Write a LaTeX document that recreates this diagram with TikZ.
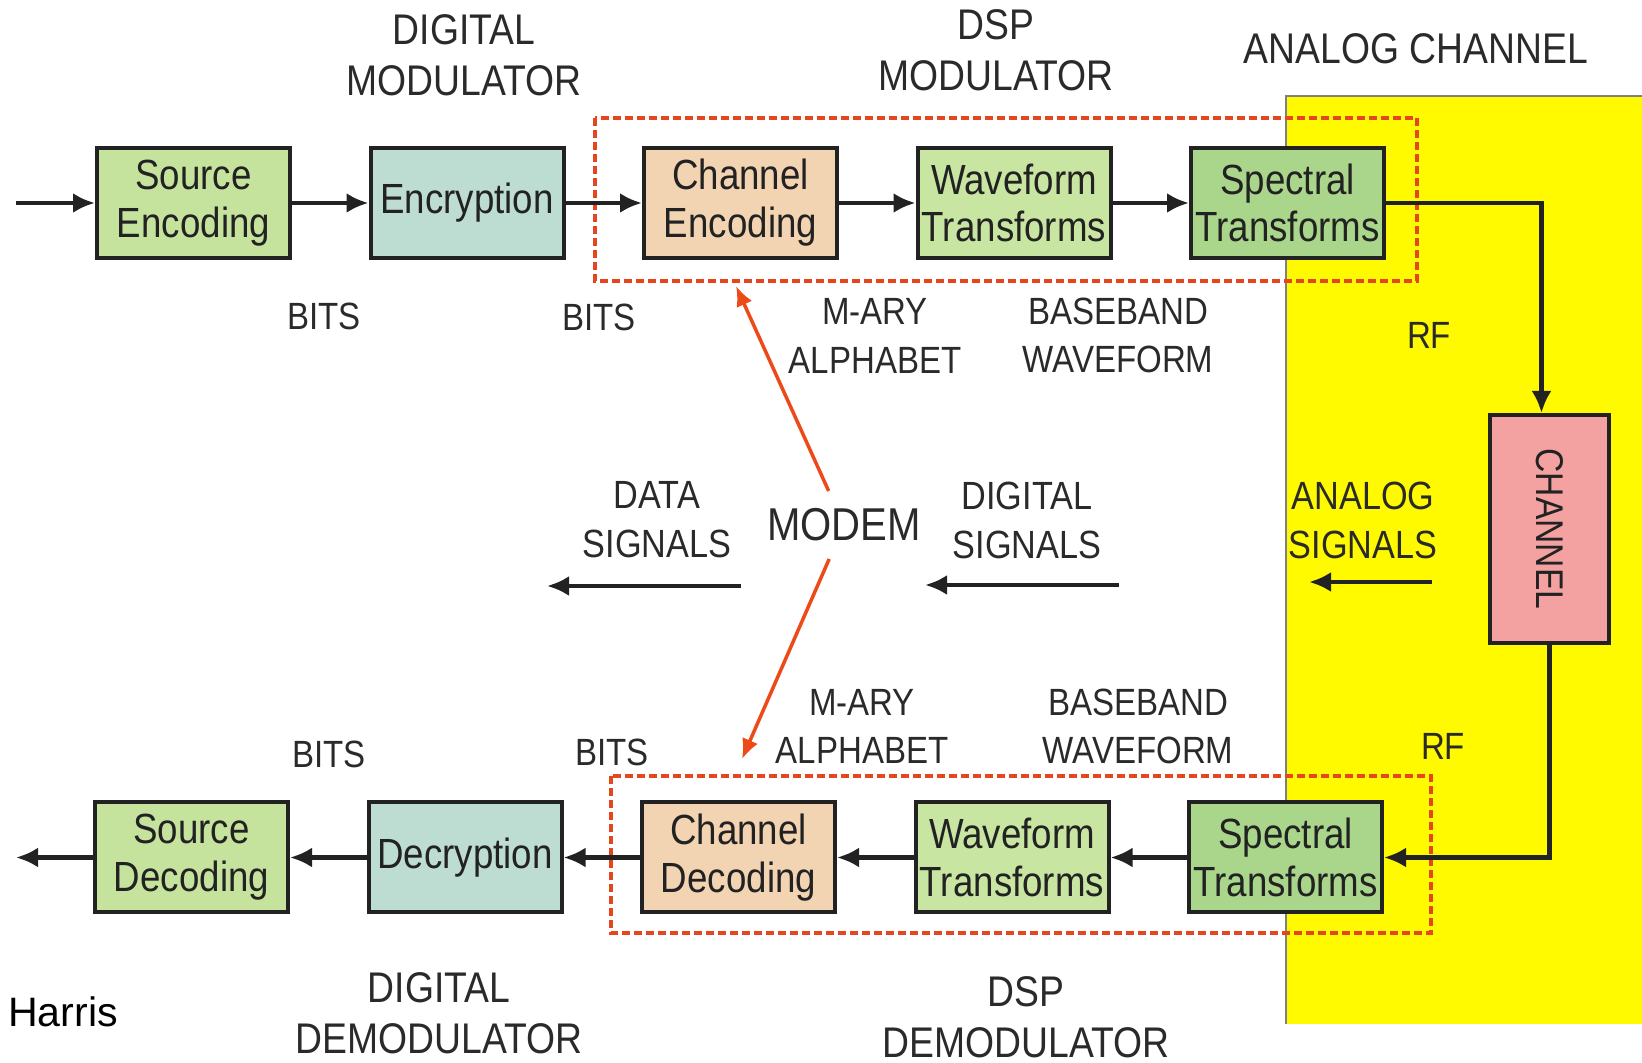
\documentclass[tikz,border=0pt]{standalone}
\usepackage{fontspec}
\usepackage{graphicx}
\setmainfont{Liberation Sans}
\newfontfamily\gothic[FakeStretch=0.87]{Liberation Sans}
\usetikzlibrary{positioning,arrows.meta}
\definecolor{SrcGreen}{HTML}{C6E39E}
\definecolor{CryptTeal}{HTML}{BDDDD2}
\definecolor{ChanPeach}{HTML}{F2D3B2}
\definecolor{WaveGreen}{HTML}{C8E6A2}
\definecolor{SpecGreen}{HTML}{A9D68B}
\definecolor{ChanPink}{HTML}{F4A1A1}
\definecolor{AnalogYellow}{HTML}{FFFA00}
\definecolor{FrameRed}{HTML}{E6461E}
\definecolor{ModemRed}{HTML}{EC4A18}
\definecolor{BoxEdge}{HTML}{222222}
\definecolor{LabelInk}{HTML}{2A2A2A}

\begin{document}
\begin{tikzpicture}[x=1cm,y=1cm,node distance=0.765cm,
                    >={Latex[length=0.22cm,width=0.2cm]},
                    blk/.style={draw=BoxEdge, line width=0.04cm, minimum width=1.93cm,
                                minimum height=1.10cm, inner sep=1pt, align=center,
                                text=BoxEdge, font=\gothic\fontsize{12}{13.6}\selectfont},
                    biglbl/.style={align=center, inner sep=0pt, text=LabelInk,
                                   font=\gothic\fontsize{12.2}{14.6}\selectfont},
                    smllbl/.style={align=center, inner sep=0pt, text=LabelInk,
                                   font=\gothic\fontsize{10.8}{13.7}\selectfont},
                    sig/.style={->, line width=0.045cm, draw=BoxEdge},
                    modarrow/.style={-{Latex[length=0.2cm,width=0.17cm]}, line width=0.035cm, draw=ModemRed},
                    dspframe/.style={draw=FrameRed, line width=0.035cm, dash pattern=on 0.08cm off 0.04cm}]
\useasboundingbox (0,0) rectangle (16.42,-10.63);

% analog channel area
\fill[AnalogYellow] (12.86,-0.96) rectangle (16.42,-10.24);
\draw[gray, line width=0.012cm] (12.86,-10.24) -- (12.86,-0.96) -- (16.42,-0.96);

% DSP frames
\draw[dspframe] (5.95,-1.18) rectangle (14.17,-2.81);
\draw[dspframe] (6.11,-7.76) rectangle (14.31,-9.33);

% transmit chain
\node[blk, fill=SrcGreen] (senc) at (1.935,-2.03) {Source\\Encoding};
\node[blk, fill=CryptTeal, right=of senc] (encr) {Encryption};
\node[blk, fill=ChanPeach, right=of encr] (cenc) {Channel\\Encoding};
\node[blk, fill=WaveGreen, right=of cenc] (wave) {Waveform\\Transforms};
\node[blk, fill=SpecGreen, right=of wave] (spec) {Spectral\\Transforms};

% channel
\node[blk, fill=ChanPink, minimum width=1.19cm, minimum height=2.28cm,
      font=\gothic\fontsize{11}{13}\selectfont] (chan) at (15.495,-5.29) {\rotatebox{-90}{CHANNEL}};

% receive chain
\node[blk, fill=SrcGreen] (sdec) at (1.915,-8.575) {Source\\Decoding};
\node[blk, fill=CryptTeal, right=of sdec] (decr) {Decryption};
\node[blk, fill=ChanPeach, right=of decr] (cdec) {Channel\\Decoding};
\node[blk, fill=WaveGreen, right=of cdec] (dwave) {Waveform\\Transforms};
\node[blk, fill=SpecGreen, right=of dwave] (dspec) {Spectral\\Transforms};

\coordinate (txin) at (0.16,-2.03);
\coordinate (rxout) at (0.16,-8.575);

\draw[sig] (txin) -- (senc);
\draw[sig] (senc) -- (encr);
\draw[sig] (encr) -- (cenc);
\draw[sig] (cenc) -- (wave);
\draw[sig] (wave) -- (spec);
\draw[sig] (spec) -| ([xshift=-0.08cm]chan.north);
\draw[sig] (chan) |- (dspec);
\draw[sig] (dspec) -- (dwave);
\draw[sig] (dwave) -- (cdec);
\draw[sig] (cdec) -- (decr);
\draw[sig] (decr) -- (sdec);
\draw[sig] (sdec) -- (rxout);

% headings
\node[biglbl] (dmodlbl) at (4.64,-0.55) {DIGITAL\\MODULATOR};
\node[biglbl] (dspmodlbl) at (9.96,-0.50) {DSP\\MODULATOR};
\node[biglbl] (anchanlbl) at (14.16,-0.49) {ANALOG CHANNEL};
\node[biglbl] (ddemlbl) at (4.39,-10.13) {DIGITAL\\DEMODULATOR};
\node[biglbl] (dspdemlbl) at (10.26,-10.17) {DSP\\DEMODULATOR};
\node[inner sep=0pt, font=\fontsize{11.7}{14}\selectfont] (harris) at (0.63,-10.12) {Harris};

% signal labels, transmit side
\node[smllbl] (bitsa) at (3.24,-3.16) {BITS};
\node[smllbl] (bitsb) at (5.99,-3.17) {BITS};
\node[smllbl] (marya) at (8.75,-3.36) {M-ARY\\ALPHABET};
\node[smllbl] (basea) at (11.18,-3.355) {BASEBAND\\WAVEFORM};
\node[smllbl] (rfa) at (14.29,-3.35) {RF};

% signal labels, receive side
\node[smllbl] (bitsc) at (3.29,-7.54) {BITS};
\node[smllbl] (bitsd) at (6.12,-7.52) {BITS};
\node[smllbl] (maryb) at (8.62,-7.265) {M-ARY\\ALPHABET};
\node[smllbl] (baseb) at (11.38,-7.265) {BASEBAND\\WAVEFORM};
\node[smllbl] (rfb) at (14.43,-7.46) {RF};

% middle row
\node[smllbl, font=\gothic\fontsize{11.2}{14}\selectfont] (datalbl) at (6.57,-5.20) {DATA\\SIGNALS};
\node[smllbl, font=\gothic\fontsize{11.2}{14}\selectfont] (diglbl) at (10.27,-5.205) {DIGITAL\\SIGNALS};
\node[smllbl, font=\gothic\fontsize{11.2}{14}\selectfont] (anasiglbl) at (13.63,-5.205) {ANALOG\\SIGNALS};
\node[biglbl, inner sep=0.17cm, font=\gothic\fontsize{13.1}{15}\selectfont] (modem) at (8.44,-5.25) {MODEM};

\coordinate (datafrom) at (7.41,-5.86);
\coordinate (datato) at (5.47,-5.86);
\coordinate (digfrom) at (11.19,-5.85);
\coordinate (digto) at (9.25,-5.85);
\coordinate (anafrom) at (14.32,-5.82);
\coordinate (anato) at (13.09,-5.82);
\draw[sig] (datafrom) -- (datato);
\draw[sig] (digfrom) -- (digto);
\draw[sig] (anafrom) -- (anato);

\coordinate (modtx) at (7.36,-2.86);
\coordinate (modrx) at (7.42,-7.59);
\draw[modarrow] (modem) -- (modtx);
\draw[modarrow] (modem) -- (modrx);
\end{tikzpicture}
\end{document}
